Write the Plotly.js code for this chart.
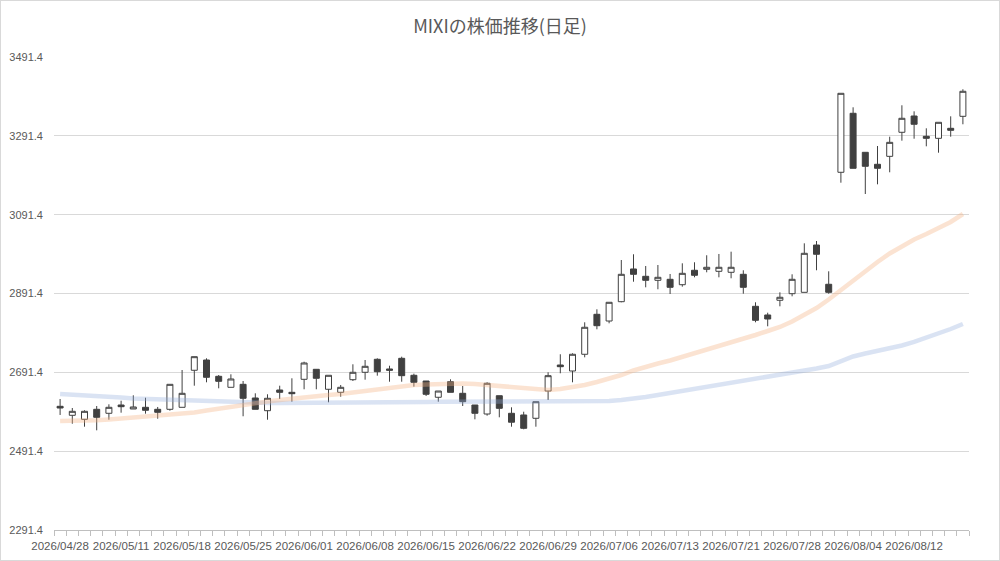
<!DOCTYPE html>
<html>
<head>
<meta charset="utf-8">
<script src="https://cdn.plot.ly/plotly-3.0.1.min.js"></script>
<style>
html,body{margin:0;padding:0;background:#fff;}
#wrap{position:relative;width:1000px;height:561px;}
#chart{width:1000px;height:561px;}
#frame{position:absolute;left:0;top:0;width:1000px;height:561px;box-sizing:border-box;border:1px solid #d9d9d9;pointer-events:none;}
</style>
</head>
<body>
<div id="wrap"><div id="chart"></div><div id="frame"></div></div>
<script>
const dates = [
"2026/04/28","2026/04/30","2026/05/01","2026/05/07","2026/05/08",
"2026/05/11","2026/05/12","2026/05/13","2026/05/14","2026/05/15",
"2026/05/18","2026/05/19","2026/05/20","2026/05/21","2026/05/22",
"2026/05/25","2026/05/26","2026/05/27","2026/05/28","2026/05/29",
"2026/06/01","2026/06/02","2026/06/03","2026/06/04","2026/06/05",
"2026/06/08","2026/06/09","2026/06/10","2026/06/11","2026/06/12",
"2026/06/15","2026/06/16","2026/06/17","2026/06/18","2026/06/19",
"2026/06/22","2026/06/23","2026/06/24","2026/06/25","2026/06/26",
"2026/06/29","2026/06/30","2026/07/01","2026/07/02","2026/07/03",
"2026/07/06","2026/07/07","2026/07/08","2026/07/09","2026/07/10",
"2026/07/13","2026/07/14","2026/07/15","2026/07/16","2026/07/17",
"2026/07/21","2026/07/22","2026/07/23","2026/07/24","2026/07/27",
"2026/07/28","2026/07/29","2026/07/30","2026/07/31","2026/08/03",
"2026/08/04","2026/08/05","2026/08/06","2026/08/07","2026/08/10",
"2026/08/12","2026/08/13","2026/08/14","2026/08/17","2026/08/18"];

const openP = [
2605.2,2582.4,2572.2,2597.6,2587.5,2608.5,2598.4,2602.7,2597.6,2597.6,
2602.7,2696.6,2722.7,2681.3,2653.4,2661.0,2626.3,2594.1,2646.6,2640.7,
2673.7,2699.1,2648.4,2640.7,2672.7,2691.5,2724.5,2699.9,2727.0,2683.9,
2669.4,2628.1,2667.6,2638.2,2608.5,2585.7,2632.1,2587.5,2583.2,2574.8,
2644.0,2710.0,2694.8,2737.2,2838.6,2821.6,2870.6,2953.6,2935.0,2924.9,
2927.4,2913.7,2950.3,2952.8,2947.7,2945.2,2940.1,2858.9,2836.9,2874.2,
2890.9,2894.4,3014.4,2914.8,3198.9,3348.6,3249.6,3219.2,3239.4,3300.4,
3341.7,3290.2,3285.1,3310.5,3340.9];
const highP = [
2623.7,2600.9,2595.1,2606.0,2610.3,2619.4,2633.1,2627.0,2603.5,2661.0,
2697.3,2731.1,2727.0,2684.6,2686.4,2669.4,2638.2,2635.7,2657.5,2676.3,
2718.4,2699.1,2683.9,2659.3,2711.8,2722.7,2727.0,2708.2,2731.1,2688.0,
2669.4,2644.0,2673.7,2656.7,2608.5,2666.1,2632.1,2602.7,2591.5,2616.9,
2691.5,2737.2,2739.7,2818.3,2851.3,2869.1,2976.4,2990.9,2961.2,2963.7,
2940.9,2968.0,2970.6,2988.4,2991.7,2997.5,2950.3,2869.1,2842.7,2894.4,
2940.1,3018.7,3024.6,2947.7,3399.3,3363.8,3249.6,3265.6,3289.2,3368.9,
3353.6,3310.5,3325.7,3340.9,3409.5];
const lowP = [
2583.2,2561.1,2553.5,2544.3,2571.2,2589.0,2598.4,2586.5,2573.8,2594.1,
2602.7,2657.5,2666.1,2650.9,2653.4,2579.9,2597.6,2571.2,2623.7,2616.9,
2648.4,2648.4,2615.4,2629.6,2669.4,2672.7,2682.9,2667.6,2667.6,2655.0,
2631.4,2616.9,2640.7,2606.0,2572.2,2581.4,2577.3,2553.5,2546.9,2553.5,
2621.2,2689.0,2666.1,2729.5,2800.6,2815.8,2869.1,2921.3,2907.1,2902.1,
2890.1,2908.7,2932.5,2945.2,2932.5,2930.0,2890.9,2818.3,2808.2,2858.9,
2884.3,2894.4,2950.3,2890.9,3172.5,3209.0,3143.8,3168.4,3198.9,3279.1,
3284.1,3264.8,3248.6,3289.2,3320.7];
const closeP = [
2600.9,2592.5,2592.5,2577.3,2602.7,2604.2,2603.5,2595.1,2590.0,2661.0,
2638.2,2731.1,2678.8,2668.6,2674.5,2625.5,2597.6,2625.5,2640.7,2637.2,
2715.1,2676.3,2683.9,2653.4,2691.5,2706.7,2693.0,2696.6,2682.9,2666.1,
2635.7,2644.0,2640.7,2616.9,2587.5,2663.6,2600.1,2564.8,2549.4,2616.9,
2682.9,2705.7,2737.2,2805.7,2809.7,2869.1,2940.1,2940.1,2924.9,2932.5,
2907.1,2942.6,2937.6,2957.9,2957.9,2957.9,2907.1,2823.4,2826.7,2881.8,
2927.4,2993.4,2990.9,2894.4,3399.3,3209.0,3214.1,3209.0,3274.9,3335.9,
3320.7,3285.1,3325.7,3305.4,3404.4];

const maShort = [
2567.9,2567.9,2568.7,2569.7,2571.7,2574.3,2576.3,2578.1,2580.6,2581.9,
2585.7,2589.5,2594.6,2599.6,2604.7,2609.8,2613.6,2617.4,2621.2,2625.0,
2628.8,2631.4,2633.9,2636.4,2640.2,2644.0,2649.1,2652.9,2656.7,2659.3,
2660.5,2661.8,2663.6,2663.1,2661.8,2659.3,2655.5,2651.7,2649.1,2646.6,
2646.6,2649.1,2652.9,2659.3,2666.9,2674.5,2684.6,2696.1,2706.2,2713.8,
2721.4,2730.3,2739.2,2748.1,2758.2,2768.4,2777.2,2786.1,2796.3,2806.4,
2820.4,2836.9,2854.6,2876.2,2900.3,2925.7,2949.8,2971.3,2992.9,3011.9,
3028.4,3042.4,3056.3,3072.8,3093.1];
const maLong = [
2636.4,2635.2,2633.9,2632.6,2630.1,2627.6,2625.0,2623.7,2622.5,2621.2,
2619.9,2618.7,2617.4,2616.1,2615.4,2614.9,2613.6,2613.6,2613.6,2613.6,
2613.6,2613.6,2613.6,2614.9,2614.9,2614.9,2614.9,2616.1,2616.1,2616.1,
2616.1,2616.9,2616.9,2616.9,2616.9,2616.9,2616.9,2616.9,2616.9,2616.9,
2616.9,2616.9,2616.9,2616.9,2616.9,2618.7,2621.2,2623.7,2628.8,2633.9,
2639.0,2642.8,2647.8,2652.9,2658.0,2663.1,2669.4,2675.8,2680.8,2685.9,
2691.0,2696.1,2701.1,2707.5,2720.2,2731.6,2739.2,2745.5,2751.9,2759.5,
2768.4,2778.5,2788.7,2801.3,2814.0];

const yTicks = [2291.4,2491.4,2691.4,2891.4,3091.4,3291.4,3491.4];
const labelEvery = 5;
const tickText = dates.map((d,i)=> i % labelEvery === 0 ? d : "");

const dark = "#404040";
const traces = [
  {
    type: "candlestick", x: dates, open: openP, high: highP, low: lowP, close: closeP,
    increasing: {line: {color: dark, width: 1}, fillcolor: "#ffffff"},
    decreasing: {line: {color: dark, width: 1}, fillcolor: dark},
    whiskerwidth: 0, showlegend: false, hoverinfo: "none"
  },
  {
    type: "scatter", mode: "lines", x: dates, y: maLong,
    line: {color: "rgba(143,170,220,0.33)", width: 4.5}, showlegend: false, hoverinfo: "none"
  },
  {
    type: "scatter", mode: "lines", x: dates, y: maShort,
    line: {color: "rgba(244,177,131,0.36)", width: 4.5}, showlegend: false, hoverinfo: "none"
  }
];

const layout = {
  width: 1000, height: 561,
  margin: {l: 54, r: 31, t: 57, b: 31},
  paper_bgcolor: "#ffffff", plot_bgcolor: "#ffffff",
  font: {family: "'Noto Sans CJK JP', 'Liberation Sans', sans-serif", color: "#595959", size: 11},
  title: {text: "MIXIの株価推移(日足)", x: 0.5, xref: "container", xanchor: "center", y: 0.953, yanchor: "middle",
          font: {size: 18, color: "#595959", family: "'Noto Sans CJK JP', sans-serif"}},
  xaxis: {
    type: "category", categoryorder: "array", categoryarray: dates,
    tickmode: "array", tickvals: dates, ticktext: tickText,
    tickson: "boundaries", ticks: "outside", ticklen: 5, tickcolor: "#bfbfbf", tickwidth: 1,
    ticklabelstandoff: 5,
    showgrid: false, showline: true, linecolor: "#bfbfbf", linewidth: 1,
    tickangle: 0, rangeslider: {visible: false}, fixedrange: true,
    tickfont: {size: 11.5, color: "#595959", family: "'Liberation Sans', sans-serif"},
    range: [-0.5, dates.length - 0.5]
  },
  yaxis: {
    range: [yTicks[0], yTicks[yTicks.length-1]],
    tickmode: "array", tickvals: yTicks, ticktext: yTicks.map(v=>v.toFixed(1)),
    showgrid: true, gridcolor: "#d9d9d9", gridwidth: 1,
    zeroline: false, showline: false, ticks: "", ticklen: 0,
    ticklabelstandoff: 10,
    tickfont: {size: 11, color: "#595959", family: "'Liberation Sans', sans-serif"},
    fixedrange: true
  }
};

Plotly.newPlot("chart", traces, layout, {displayModeBar: false, staticPlot: true});
</script>
</body>
</html>
